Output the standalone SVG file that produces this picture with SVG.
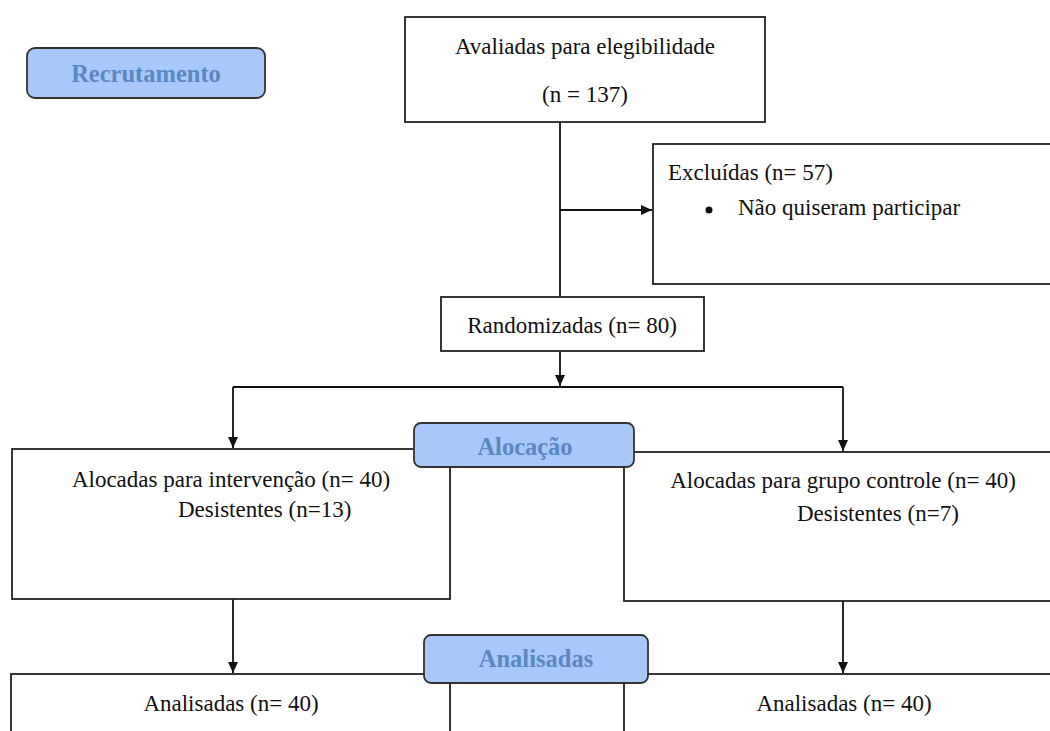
<svg xmlns="http://www.w3.org/2000/svg" width="1050" height="731" viewBox="0 0 1050 731">
<style>
.box{fill:#fff;stroke:#222;stroke-width:1.8}
.lab{fill:#a8c8fa;stroke:#333;stroke-width:1.8}
.t{font-family:"Liberation Serif","Times New Roman",serif;font-size:23px;fill:#111}
.lt{font-family:"Liberation Serif","Times New Roman",serif;font-size:24.5px;font-weight:bold;fill:#5b87c1;text-anchor:middle}
.c{text-anchor:middle}
.ln{stroke:#111;stroke-width:1.8;fill:none}
</style>
<defs>
<marker id="ar" markerWidth="11" markerHeight="10" refX="11" refY="5" orient="auto" markerUnits="userSpaceOnUse">
<path d="M0,0 L11,5 L0,10 Z" fill="#111"/>
</marker>
</defs>
<rect width="1050" height="731" fill="#fff"/>
<g id="connectors">
<line class="ln" x1="560" y1="122" x2="560" y2="297"/>
<line class="ln" x1="560" y1="210" x2="652" y2="210" marker-end="url(#ar)"/>
<line class="ln" x1="560" y1="351" x2="560" y2="386" marker-end="url(#ar)"/>
<line class="ln" x1="233" y1="387" x2="843" y2="387"/>
<line class="ln" x1="233" y1="387" x2="233" y2="448" marker-end="url(#ar)"/>
<line class="ln" x1="843" y1="387" x2="843" y2="451" marker-end="url(#ar)"/>
<line class="ln" x1="233" y1="599" x2="233" y2="673" marker-end="url(#ar)"/>
<line class="ln" x1="843" y1="601" x2="843" y2="673" marker-end="url(#ar)"/>
</g>
<g id="recrutamento">
<rect class="lab" x="27" y="48" width="238" height="50" rx="8"/>
<text class="lt" x="146" y="82">Recrutamento</text>
</g>
<g id="avaliadas">
<rect class="box" x="405" y="17" width="360" height="105"/>
<text class="t c" x="585" y="54">Avaliadas para elegibilidade</text>
<text class="t c" x="585" y="102">(n = 137)</text>
</g>
<g id="excluidas">
<rect class="box" x="653" y="144" width="420" height="140"/>
<text class="t" x="668" y="180">Excluídas (n= 57)</text>
<circle cx="709" cy="210" r="3.5" fill="#111"/>
<text class="t" x="738" y="215">Não quiseram participar</text>
</g>
<g id="randomizadas">
<rect class="box" x="441" y="297" width="263" height="54"/>
<text class="t c" x="572" y="333">Randomizadas (n= 80)</text>
</g>
<g id="intervencao">
<rect class="box" x="12" y="449" width="438" height="150"/>
<text class="t c" x="231" y="487">Alocadas para intervenção (n= 40)</text>
<text class="t" x="178" y="517">Desistentes (n=13)</text>
</g>
<g id="controle">
<rect class="box" x="624" y="452" width="450" height="149"/>
<text class="t c" x="843" y="488">Alocadas para grupo controle (n= 40)</text>
<text class="t" x="797" y="521">Desistentes (n=7)</text>
</g>
<g id="alocacao">
<rect class="lab" x="414" y="423" width="220" height="44" rx="7"/>
<text class="lt" x="525" y="455">Alocação</text>
</g>
<g id="analisadas-int">
<rect class="box" x="11" y="674" width="439" height="80"/>
<text class="t c" x="231" y="711">Analisadas (n= 40)</text>
</g>
<g id="analisadas-ctrl">
<rect class="box" x="624" y="674" width="450" height="80"/>
<text class="t c" x="844" y="711">Analisadas (n= 40)</text>
</g>
<g id="analisadas">
<rect class="lab" x="424" y="635" width="224" height="48" rx="7"/>
<text class="lt" x="536" y="667">Analisadas</text>
</g>
</svg>
